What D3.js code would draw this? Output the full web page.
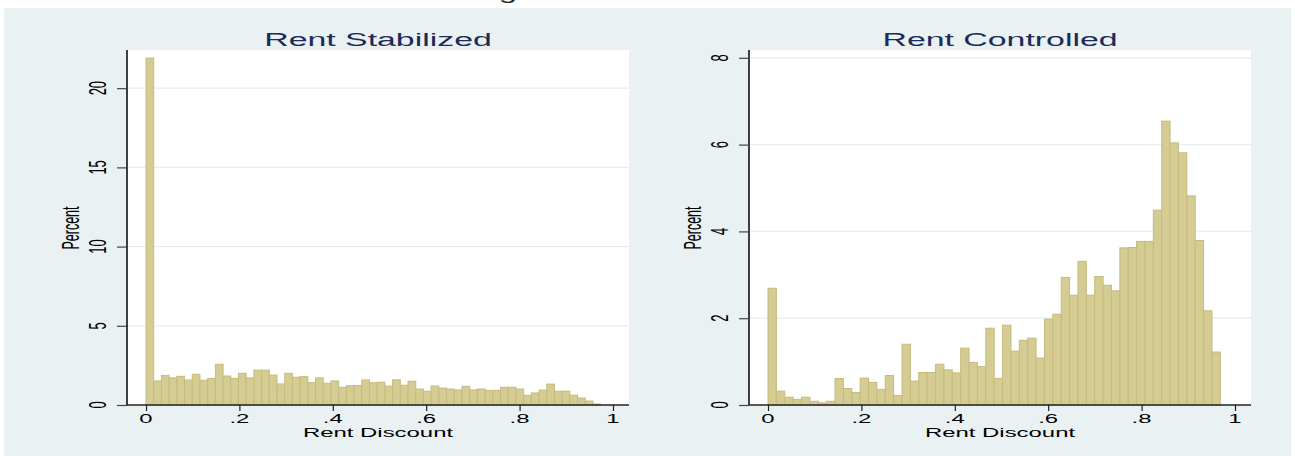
<!DOCTYPE html>
<html>
<head>
<meta charset="utf-8">
<script src="https://cdn.jsdelivr.net/npm/d3@7"></script>
<style>
  html, body { margin: 0; padding: 0; background: #ffffff; }
  svg { display: block; }
  text { font-family: "Liberation Sans", Arial, sans-serif; }
</style>
</head>
<body>
<div id="chart"></div>
<script>
// ---------------- data ----------------
const panelTitles = ["Rent Stabilized", "Rent Controlled"];
const xAxisTitle = "Rent Discount";
const yAxisTitle = "Percent";
const xTickValues = [0, 0.2, 0.4, 0.6, 0.8, 1];
const xTickLabels = ["0", ".2", ".4", ".6", ".8", "1"];

// Rent Stabilized: 59 bins from 0 to ~0.974
const stabilizedBinStart = 0;
const stabilizedBinWidth = 0.9737 / 59;
const stabilizedPercent = [
  21.9, 1.52, 1.87, 1.71, 1.81, 1.58, 1.94, 1.56, 1.68, 2.57,
  1.83, 1.68, 2.0, 1.71, 2.2, 2.2, 1.89, 1.33, 2.0, 1.75,
  1.79, 1.41, 1.71, 1.37, 1.52, 1.12, 1.22, 1.22, 1.58, 1.4,
  1.44, 1.19, 1.59, 1.25, 1.5, 1.01, 0.87, 1.2, 1.07, 1.01,
  0.95, 1.18, 0.95, 1.01, 0.92, 0.93, 1.12, 1.12, 1.01, 0.61,
  0.76, 0.94, 1.32, 0.87, 0.87, 0.62, 0.44, 0.25, 0.06
];
const stabilizedYTicks = [0, 5, 10, 15, 20];
const stabilizedYMax = 22.41;

// Rent Controlled: 54 bins from 0 to ~0.969
const controlledBinStart = 0;
const controlledBinWidth = 0.9687 / 54;
const controlledPercent = [
  2.69, 0.32, 0.18, 0.13, 0.18, 0.085, 0.05, 0.085, 0.61, 0.38,
  0.29, 0.62, 0.52, 0.36, 0.68, 0.22, 1.40, 0.55, 0.75, 0.75,
  0.94, 0.81, 0.74, 1.31, 0.98, 0.89, 1.77, 0.61, 1.84, 1.24,
  1.49, 1.54, 1.08, 1.98, 2.09, 2.94, 2.53, 3.31, 2.53, 2.96,
  2.76, 2.63, 3.62, 3.63, 3.77, 3.77, 4.49, 6.54, 6.04, 5.81,
  4.82, 3.79, 2.17, 1.22
];
const controlledYTicks = [0, 2, 4, 6, 8];
const controlledYMax = 8.18;

// ---------------- layout / style ----------------
const W = 1295, H = 456;
const SX = 1.84;               // horizontal text stretch of the original
const bgColor = "#e9f1f3";
const barFill = "#d5cc93";
const barStroke = "#c6bb7b";
const titleColor = "#1c2b58";
const gridColor = "#e6eef1";

const panels = [
  { title: panelTitles[0], data: stabilizedPercent, start: stabilizedBinStart, width: stabilizedBinWidth,
    yTicks: stabilizedYTicks, yMax: stabilizedYMax, left: 127 },
  { title: panelTitles[1], data: controlledPercent, start: controlledBinStart, width: controlledBinWidth,
    yTicks: controlledYTicks, yMax: controlledYMax, left: 749 }
];
const plotTop = 50, plotBottom = 405, plotWidth = 502;

const svg = d3.select("#chart").append("svg")
  .attr("width", W).attr("height", H);

// outer graph region
svg.append("rect").attr("x", 4).attr("y", 8).attr("width", W - 8).attr("height", H - 8)
  .attr("fill", bgColor);

// cut-off overall title descender at top
svg.append("text")
  .attr("transform", `translate(508,-1) scale(${SX},1)`)
  .attr("text-anchor", "middle").attr("font-size", 18).attr("fill", "#222")
  .text("g");

function stretchedText(g, x, y, str, size, opts = {}) {
  const rot = opts.rotate ? " rotate(-90)" : "";
  const sx = opts.sx || SX;
  return g.append("text")
    .attr("transform", `translate(${x},${y}) scale(${sx},1)${rot}`)
    .attr("text-anchor", "middle")
    .attr("font-size", size)
    .attr("fill", opts.fill || "#000")
    .text(str);
}

panels.forEach(p => {
  const g = svg.append("g");
  const x = d3.scaleLinear().domain([-0.0407, 1.0343]).range([p.left, p.left + plotWidth]);
  const y = d3.scaleLinear().domain([0, p.yMax]).range([plotBottom, plotTop]);

  // plot region
  g.append("rect").attr("x", p.left).attr("y", plotTop)
    .attr("width", plotWidth).attr("height", plotBottom - plotTop).attr("fill", "#ffffff");

  // gridlines
  g.selectAll("line.grid").data(p.yTicks.filter(v => v > 0)).enter().append("line")
    .attr("x1", p.left).attr("x2", p.left + plotWidth)
    .attr("y1", d => y(d)).attr("y2", d => y(d))
    .attr("stroke", gridColor).attr("stroke-width", 1.2);

  // bars
  g.selectAll("rect.bar").data(p.data).enter().append("rect")
    .attr("x", (d, i) => x(p.start + i * p.width))
    .attr("width", (d, i) => x(p.start + (i + 1) * p.width) - x(p.start + i * p.width))
    .attr("y", d => y(d))
    .attr("height", d => y(0) - y(d))
    .attr("fill", barFill).attr("stroke", barStroke).attr("stroke-width", 1);

  // y axis
  const yAxis = d3.axisLeft(y).tickValues(p.yTicks).tickSize(10).tickFormat("");
  const ya = g.append("g").attr("transform", `translate(${p.left},0)`).call(yAxis);
  ya.select(".domain").attr("stroke", "#000").attr("stroke-width", 1.5)
    .attr("d", `M0,${plotTop}V${plotBottom}`);
  ya.selectAll(".tick line").attr("stroke", "#444").attr("stroke-width", 1.2);
  p.yTicks.forEach(v => {
    stretchedText(g, p.left - 21, y(v), String(v), 12.9, { rotate: true });
  });
  stretchedText(g, p.left - 48, 228, yAxisTitle, 12.5, { rotate: true, sx: 1.95 });

  // x axis
  const xAxis = d3.axisBottom(x).tickValues(xTickValues).tickSize(6).tickFormat("");
  const xa = g.append("g").attr("transform", `translate(0,${plotBottom})`).call(xAxis);
  xa.select(".domain").attr("stroke", "#222").attr("stroke-width", 1.3)
    .attr("d", `M${p.left},0H${p.left + plotWidth}`);
  xa.selectAll(".tick line").attr("stroke", "#222").attr("stroke-width", 1.2);
  xTickValues.forEach((v, i) => {
    stretchedText(g, x(v), 423, xTickLabels[i], 13);
  });
  stretchedText(g, p.left + plotWidth / 2, 437, xAxisTitle, 13);

  // title
  stretchedText(g, p.left + plotWidth / 2, 46, p.title, 18.4, { fill: titleColor });
});
</script>
</body>
</html>
